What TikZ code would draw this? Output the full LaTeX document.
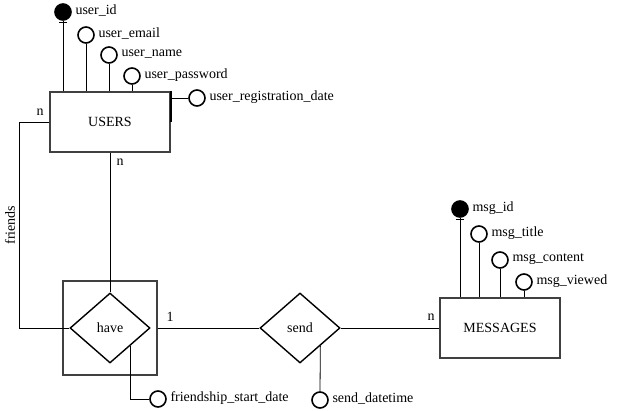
\documentclass[tikz,border=0pt]{standalone}
\usepackage{fontspec}
\setmainfont{Liberation Serif}
\usetikzlibrary{shapes.geometric, calc}

\begin{document}
\begin{tikzpicture}[x=1pt, y=-1pt,
    font=\fontsize{14}{16}\selectfont,
    entity/.style={rectangle, draw=black!75, line width=1.6pt, fill=white,
        minimum width=120pt, minimum height=60pt},
    relation/.style={diamond, draw=black, line width=1.4pt, fill=white,
        minimum width=80pt, minimum height=70pt, inner sep=0pt},
    attrname/.style={inner sep=1.5pt, label distance=2pt, yshift=1pt},
    attr/.style={circle, draw=black, line width=1.6pt, fill=white,
        minimum size=16pt, inner sep=0pt, label={[attrname]right:#1}},
    keyattr/.style={attr=#1, fill=black},
    card/.style={inner sep=1pt},
    edge/.style={line width=0.8pt, -}
]
    \useasboundingbox (0,0) rectangle (628,411);

    % entities and relations
    \node[entity] (users) at (110,122) {USERS};
    \node[entity] (msgs) at (500,328) {MESSAGES};
    \node[rectangle, draw=black!75, line width=1.6pt, minimum size=94pt] (havebox) at (110,328) {};
    \node[relation] (have) at (110,328) {have};
    \node[relation] (send) at (300,328) {send};

    % users attributes
    \node[keyattr=user\_id] (uid) at (63,12) {};
    \node[attr=user\_email] (umail) at (86,35) {};
    \node[attr=user\_name] (uname) at (109,55) {};
    \node[attr=user\_password] (upass) at (132,76) {};
    \node[attr=user\_registration\_date] (ureg) at (197,98) {};

    % messages attributes
    \node[keyattr=msg\_id] (mid) at (460,209) {};
    \node[attr=msg\_title] (mtitle) at (479,234) {};
    \node[attr=msg\_content] (mcont) at (500,260) {};
    \node[attr=msg\_viewed] (mview) at (524,282) {};

    % relation attributes
    \node[attr=friendship\_start\_date] (fsd) at (158,399) {};
    \node[attr=send\_datetime] (sdt) at (320,400) {};

    % cardinalities
    \node[card] (cfriends) at (40,112) {n};
    \node[card] (cusers) at (120,162) {n};
    \node[card] (chave) at (170,317) {1};
    \node[card] (cmsgs) at (431,317) {n};
    \node[rotate=90] (friends) at (10,225) {friends};

    % attribute links
    \draw[edge] (uid) -- (uid |- users.north);
    \draw[edge] (umail) -- (umail |- users.north);
    \draw[edge] (uname) -- (uname |- users.north);
    \draw[edge] (upass) -- (upass |- users.north);
    \draw[edge] (ureg) -- (ureg -| users.east);
    \draw[line width=1.6pt] (users.north east) -- (users.east);
    \draw[edge] (mid) -- (mid |- msgs.north);
    \draw[edge] (mtitle) -- (mtitle |- msgs.north);
    \draw[edge] (mcont) -- (mcont |- msgs.north);
    \draw[edge] (mview) -- (mview |- msgs.north);
    \draw[edge] (uid.south) ++(-4,2) -- ++(8,0);
    \draw[edge] (mid.south) ++(-4,2) -- ++(8,0);
    \coordinate (haveside) at ($(have.east)!0.5!(have.south)$);
    \coordinate (sendside) at ($(send.east)!0.5!(send.south)$);
    \draw[edge] (haveside) |- (fsd.west);
    \draw[edge] (sendside) -- (sdt.north);

    % relationships
    \draw[edge] (users.west) -- ++(-30,0) |- (have.west);
    \draw[edge] (users.south) -- (have.north);
    \draw[edge] (havebox.east) -- (send.west);
    \draw[edge] (send.east) -- (msgs.west);
\end{tikzpicture}
\end{document}
